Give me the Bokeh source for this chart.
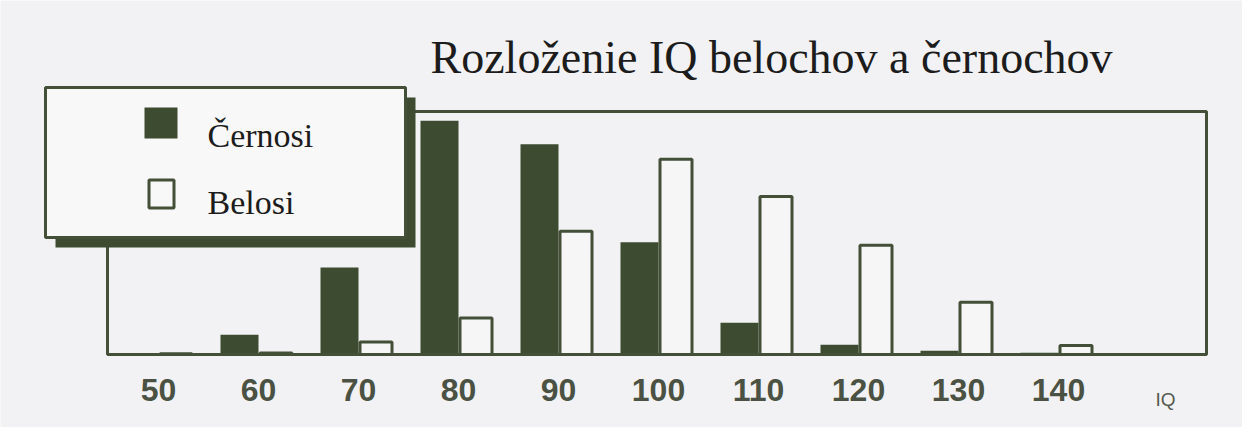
from bokeh.plotting import figure
from bokeh.models import Range1d, Label, LabelSet, BoxAnnotation, ColumnDataSource
from bokeh.core.properties import value
from bokeh.transform import dodge
from bokeh.embed import file_html
from bokeh.resources import INLINE

# ---- data ----
iq_levels = [50, 60, 70, 80, 90, 100, 110, 120, 130, 140]
cernosi = [0.12, 2.1, 9.3, 25.0, 22.5, 12.0, 3.4, 1.05, 0.4, 0.2]
belosi = [0.08, 0.15, 1.35, 3.9, 13.2, 20.9, 16.9, 11.7, 5.6, 0.95]
tick_labels = ["50", "60", "70", "80", "90", "100", "110", "120", "130", "140"]
series_names = ["Černosi", "Belosi"]
title_text = "Rozloženie IQ belochov a černochov"
axis_name = "IQ"

DARK = "#3d4b31"
LINE = "#434f37"
PAPER = "#f2f2f4"

W, H = 1242, 427
src = ColumnDataSource(dict(iq=iq_levels, cernosi=cernosi, belosi=belosi, lab=tick_labels))

# frame covers the whole canvas; 10 px per IQ point, 26 value units over 243 px
px_x = 10.0
px_y = 243 / 26.0
x0 = 50 - 158 / px_x
y0 = -73 / px_y
p = figure(width=W, height=H, output_backend="svg", toolbar_location=None,
           x_range=Range1d(x0, x0 + W / px_x), y_range=Range1d(y0, y0 + H / px_y),
           min_border=0)
p.background_fill_color = PAPER
p.border_fill_color = PAPER
p.outline_line_color = None
p.grid.visible = False
p.axis.visible = False


def box(l, r, t, b, **kw):
    return BoxAnnotation(left=l, right=r, top=t, bottom=b,
                         left_units="screen", right_units="screen",
                         top_units="screen", bottom_units="screen", **kw)


p.vbar(x=dodge("iq", -1.9, range=p.x_range), top="cernosi", bottom=0, width=3.8, source=src,
       fill_color=DARK, line_color=None)
p.vbar(x=dodge("iq", 1.75, range=p.x_range), top="belosi", bottom=0, width=3.2, source=src,
       fill_color="#f6f6f7", line_color=LINE, line_width=3)

# chart box
p.add_layout(box(107, 1206, 316, 73, fill_alpha=0, line_color=LINE, line_width=3, line_alpha=1))

# tick labels (x from the data through the x scale)
p.add_layout(LabelSet(x="iq", y=27, y_units="screen", text="lab", source=src,
                      text_align="center", text_baseline="alphabetic",
                      text_font=value("Liberation Sans"), text_font_style="bold",
                      text_font_size="32px", text_color="#4b5243"))

# axis name
p.add_layout(Label(x=1155, y=28, x_units="screen", y_units="screen", text=axis_name,
                   text_font="Liberation Sans", text_font_size="19px", text_color="#555a50",
                   text_baseline="alphabetic"))

# title
p.add_layout(Label(x=430, y=370, x_units="screen", y_units="screen", text=title_text,
                   text_font="Liberation Serif", text_font_size="46px", text_color="#1c1c1c",
                   text_baseline="alphabetic"))

# legend: shadow, box, swatches, texts
p.add_layout(box(55, 415, 330, 180, fill_color=DARK, fill_alpha=1, line_color=None))
p.add_layout(box(45, 405, 340, 190, fill_color="#f8f8f8", fill_alpha=1,
                 line_color=LINE, line_width=3, line_alpha=1))
p.add_layout(box(144, 177, 320, 289, fill_color=DARK, fill_alpha=1, line_color=None))
p.add_layout(box(148.5, 173.5, 247.5, 219.5, fill_color="#f8f8f8", fill_alpha=1,
                 line_color=LINE, line_width=3, line_alpha=1))
for name, yy in zip(series_names, [292, 225]):
    p.add_layout(Label(x=207, y=yy, x_units="screen", y_units="screen", text=name,
                       text_font="Liberation Serif", text_font_size="34px", text_color="#1c1c1c",
                       text_baseline="alphabetic"))

open("out.html", "w").write(file_html(p, INLINE))
